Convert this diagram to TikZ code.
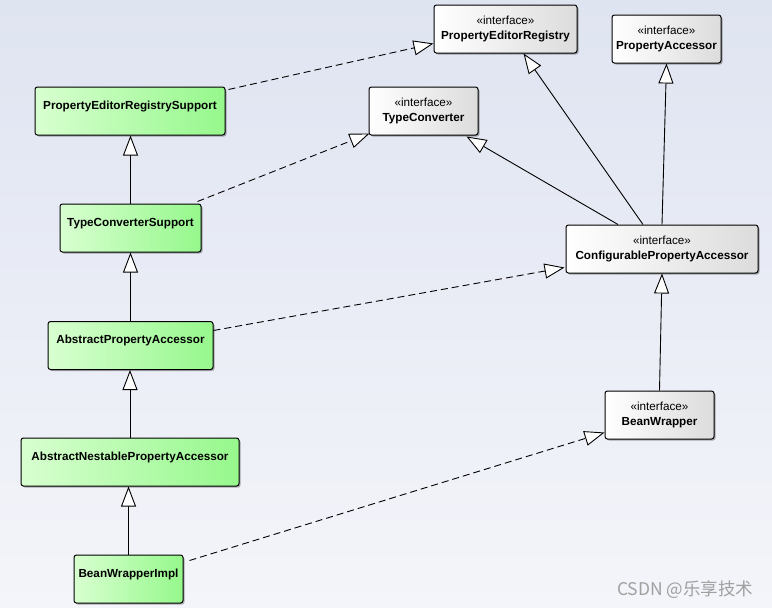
\documentclass[tikz,border=0pt]{standalone}
\usepackage{fontspec}
\setmainfont{Liberation Sans}
\newfontfamily\cjkfont{Noto Sans CJK SC}
\usepackage{tikz}
\usetikzlibrary{arrows.meta,shadows}
\definecolor{bgtop}{RGB}{223,228,241}
\definecolor{bgbottom}{RGB}{244,245,250}
\definecolor{classleft}{RGB}{216,255,208}
\definecolor{classright}{RGB}{150,248,140}
\definecolor{ifaceright}{RGB}{220,220,220}
\definecolor{wmgray}{RGB}{160,160,160}

\begin{document}
\begin{tikzpicture}[x=1pt,y=-1pt,
  box/.style={draw,line width=1pt,rounded corners=2.5pt,minimum height=48pt,
    font=\fontsize{11.7}{13.5}\selectfont\bfseries,
    drop shadow={shadow xshift=1.5pt,shadow yshift=-1.5pt,opacity=0.3,fill=black}},
  class/.style={box,left color=classleft,right color=classright,
    text height=8pt,text depth=12pt},
  iface/.style={box,left color=white,right color=ifaceright,align=center},
  extends/.style={-{Triangle[length=20pt,width=15pt,fill=white]},line width=0.9pt},
  implements/.style={extends,dash pattern=on 7pt off 4pt}
]
\fill[top color=bgtop,bottom color=bgbottom] (0,0) rectangle (772,608);
\useasboundingbox (0,0) rectangle (772,608);

% classes
\node[class,minimum width=190pt] (pers) at (130,111) {PropertyEditorRegistrySupport};
\node[class,minimum width=141pt] (tcs) at (130.5,228) {TypeConverterSupport};
\node[class,minimum width=165pt] (apa) at (130.5,345.5) {AbstractPropertyAccessor};
\node[class,minimum width=218pt] (anpa) at (130,462) {AbstractNestablePropertyAccessor};
\node[class,minimum width=109pt] (bwi) at (128.5,579) {BeanWrapperImpl};

% interfaces
\node[iface,minimum width=143pt] (per) at (505.5,29) {{\mdseries «interface»}\\[1.5pt]PropertyEditorRegistry};
\node[iface,minimum width=109pt] (tc) at (423.5,111) {{\mdseries «interface»}\\[1.5pt]TypeConverter};
\node[iface,minimum width=109pt] (pa) at (666.5,39) {{\mdseries «interface»}\\[1.5pt]PropertyAccessor};
\node[iface,minimum width=192pt] (cpa) at (662,249) {{\mdseries «interface»}\\[1.5pt]ConfigurablePropertyAccessor};
\node[iface,minimum width=109pt] (bw) at (659.5,415) {{\mdseries «interface»}\\[1.5pt]BeanWrapper};

% generalization
\draw[extends] (tcs.north) -- (tcs.north |- pers.south);
\draw[extends] (apa.north) -- (apa.north |- tcs.south);
\draw[extends] (anpa.north) -- (anpa.north |- apa.south);
\draw[extends] (bwi.north) -- (bwi.north |- anpa.south);
\draw[extends] ([shift={(-19,0)}]cpa.north) -- ([shift={(18,0)}]per.south);
\draw[extends] ([shift={(-44,0)}]cpa.north) -- ([shift={(-12,1)}]tc.south east);
\draw[extends] (cpa.north) -- (pa.south);
\draw[extends] (bw.north) -- (cpa.south);

% realization
\draw[implements] ([shift={(3,3)}]pers.north east) -- ([shift={(0,-10)}]per.south west);
\draw[implements] ([shift={(-4,-2)}]tcs.north east) -- ([shift={(1,-2)}]tc.south west);
\draw[implements] ([shift={(0,-15)}]apa.east) -- ([shift={(-1,-6)}]cpa.south west);
\draw[implements] ([shift={(6,6)}]bwi.north east) -- ([shift={(0,-7)}]bw.south west);

\node[text=wmgray,font=\cjkfont\fontsize{17.5}{20}\selectfont,anchor=east] (wm) at (757,590) {CSDN @乐享技术};
\end{tikzpicture}
\end{document}
